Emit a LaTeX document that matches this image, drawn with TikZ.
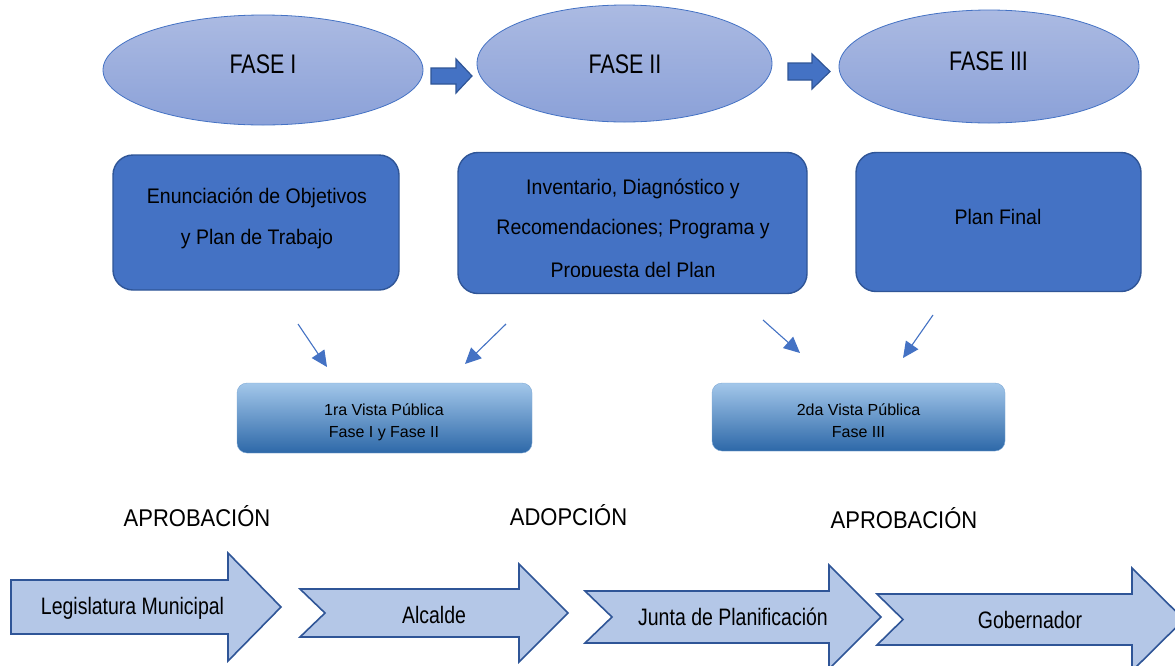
\documentclass[tikz,border=0pt]{standalone}
\usepackage{fontspec}
\setmainfont{Liberation Sans}
\usepackage{graphicx}
\usetikzlibrary{shapes.geometric,arrows.meta}
\definecolor{ellfillT}{HTML}{ABBAE2}
\definecolor{ellfillB}{HTML}{8BA1D8}
\definecolor{ellline}{HTML}{4472C4}
\definecolor{boxfill}{HTML}{4472C4}
\definecolor{boxline}{HTML}{2F5597}
\definecolor{vistaT}{HTML}{A3C7EA}
\definecolor{vistaB}{HTML}{2D68A8}
\definecolor{bafill}{HTML}{B4C7E7}
\newcommand{\vstr}[2]{\scalebox{1}[#1]{#2}}
\tikzset{
  fase/.style={ellipse, draw=ellline, line width=0.8pt, top color=ellfillT, bottom color=ellfillB, inner sep=0pt},
  phasebox/.style={rectangle, rounded corners=20pt, draw=boxline, line width=1.4pt, fill=boxfill, inner sep=0pt},
  vista/.style={rectangle, rounded corners=10pt, draw=vistaT!70!vistaB, line width=0.4pt, top color=vistaT, bottom color=vistaB, inner sep=0pt},
  blockarrow/.style={draw=boxline, line width=1.2pt, fill=boxfill, line join=miter},
  bigarrow/.style={draw=boxline, line width=1.6pt, fill=bafill, line join=miter},
  thinarrow/.style={draw=ellline, line width=1.1pt, -{Triangle[length=16pt,width=15pt]}, color=ellline},
  lbl/.style={anchor=base, inner sep=0pt, text=black},
  fasetxt/.style={lbl, font=\fontsize{21.5}{26}\selectfont},
  boxtxt/.style={lbl, font=\fontsize{19.5}{24}\selectfont},
  vistatxt/.style={lbl, font=\fontsize{16}{19}\selectfont},
  headtxt/.style={lbl, font=\fontsize{22}{26}\selectfont},
  arrtxt/.style={lbl, font=\fontsize{19.5}{24}\selectfont}
}
\begin{document}
\begin{tikzpicture}[x=1pt,y=-1pt]
\useasboundingbox (0,0) rectangle (1175,665);
\fill[white] (0,0) rectangle (1175,665);
\clip (0,0) rectangle (1175,665);

% Phase ellipses
\node[fase, minimum width=320pt, minimum height=110pt] (e1) at (263,70) {};
\node[fase, minimum width=295pt, minimum height=117pt] (e2) at (624.5,63.5) {};
\node[fase, minimum width=300pt, minimum height=113pt] (e3) at (989,66.5) {};
\node[fasetxt] (e1t) at (263,73) {\vstr{1.25}{FASE I}};
\node[fasetxt] (e2t) at (625,73) {\vstr{1.25}{FASE II}};
\node[fasetxt] (e3t) at (988.5,70) {\vstr{1.25}{FASE III}};

% small block arrows between ellipses
\draw[blockarrow] (431,68) -- (456,68) -- (456,59) -- (472,76) -- (456,93) -- (456,84) -- (431,84) -- cycle;
\draw[blockarrow] (788,63) -- (812,63) -- (812,54) -- (830,71.5) -- (812,89) -- (812,80) -- (788,80) -- cycle;

% Phase boxes
\node[phasebox, minimum width=286pt, minimum height=135pt] (b1) at (256,222.5) {};
\node[phasebox, minimum width=349pt, minimum height=141pt] (b2) at (632.5,223) {};
\node[phasebox, minimum width=285pt, minimum height=139pt] (b3) at (998.5,222) {};

\node[boxtxt] (b1l1) at (257,203) {\vstr{1.08}{Enunciación de Objetivos}};
\node[boxtxt] (b1l2) at (257,244) {\vstr{1.08}{y Plan de Trabajo}};
\begin{scope}
\clip (458,150) rectangle (808,276.5);
\node[boxtxt] (b2l1) at (633,194) {\vstr{1.08}{Inventario, Diagnóstico y}};
\node[boxtxt] (b2l2) at (633,234.5) {\vstr{1.08}{Recomendaciones; Programa y}};
\node[boxtxt] (b2l3) at (633,277.5) {\vstr{1.08}{Propuesta del Plan}};
\end{scope}
\node[boxtxt] (b3l1) at (998,224) {\vstr{1.08}{Plan Final}};

% thin arrows
\coordinate (a1s) at (298,324); \coordinate (a1e) at (327,367);
\coordinate (a2s) at (506,324); \coordinate (a2e) at (465,364);
\coordinate (a3s) at (763,320); \coordinate (a3e) at (800,353);
\coordinate (a4s) at (933,315); \coordinate (a4e) at (903,358);
\draw[thinarrow] (a1s) -- (a1e);
\draw[thinarrow] (a2s) -- (a2e);
\draw[thinarrow] (a3s) -- (a3e);
\draw[thinarrow] (a4s) -- (a4e);

% Vista boxes
\node[vista, minimum width=295pt, minimum height=70pt] (v1) at (384.5,418) {};
\node[vista, minimum width=293pt, minimum height=68pt] (v2) at (858.5,417) {};
\node[vistatxt] (v1l1) at (384,415) {1ra Vista Pública};
\node[vistatxt] (v1l2) at (384,437) {Fase I y Fase II};
\node[vistatxt] (v2l1) at (858.5,415) {2da Vista Pública};
\node[vistatxt] (v2l2) at (858.5,437) {Fase III};

% headings
\node[headtxt] (h1) at (197,526) {\vstr{1.1}{APROBACIÓN}};
\node[headtxt] (h2) at (568.5,525) {\vstr{1.1}{ADOPCIÓN}};
\node[headtxt] (h3) at (904,528) {\vstr{1.1}{APROBACIÓN}};

% bottom chevron arrows
\draw[bigarrow] (11,580) -- (228,580) -- (228,553) -- (281,607) -- (228,661) -- (228,634) -- (11,634) -- cycle;
\draw[bigarrow] (300,589) -- (519,589) -- (519,564) -- (568,613) -- (519,662) -- (519,637) -- (300,637) -- (325,613) -- cycle;
\draw[bigarrow] (585,591) -- (829,591) -- (829,565) -- (881,617) -- (829,669) -- (829,643) -- (585,643) -- (612,617) -- cycle;
\draw[bigarrow] (877,594) -- (1132,594) -- (1132,568) -- (1184,619.5) -- (1132,671) -- (1132,645) -- (877,645) -- (903,619.5) -- cycle;

\node[arrtxt] (t1) at (132.5,614) {\vstr{1.22}{Legislatura Municipal}};
\node[arrtxt] (t2) at (434,623) {\vstr{1.22}{Alcalde}};
\node[arrtxt] (t3) at (733,625) {\vstr{1.22}{Junta de Planificación}};
\node[arrtxt] (t4) at (1030,628) {\vstr{1.22}{Gobernador}};
\end{tikzpicture}
\end{document}
